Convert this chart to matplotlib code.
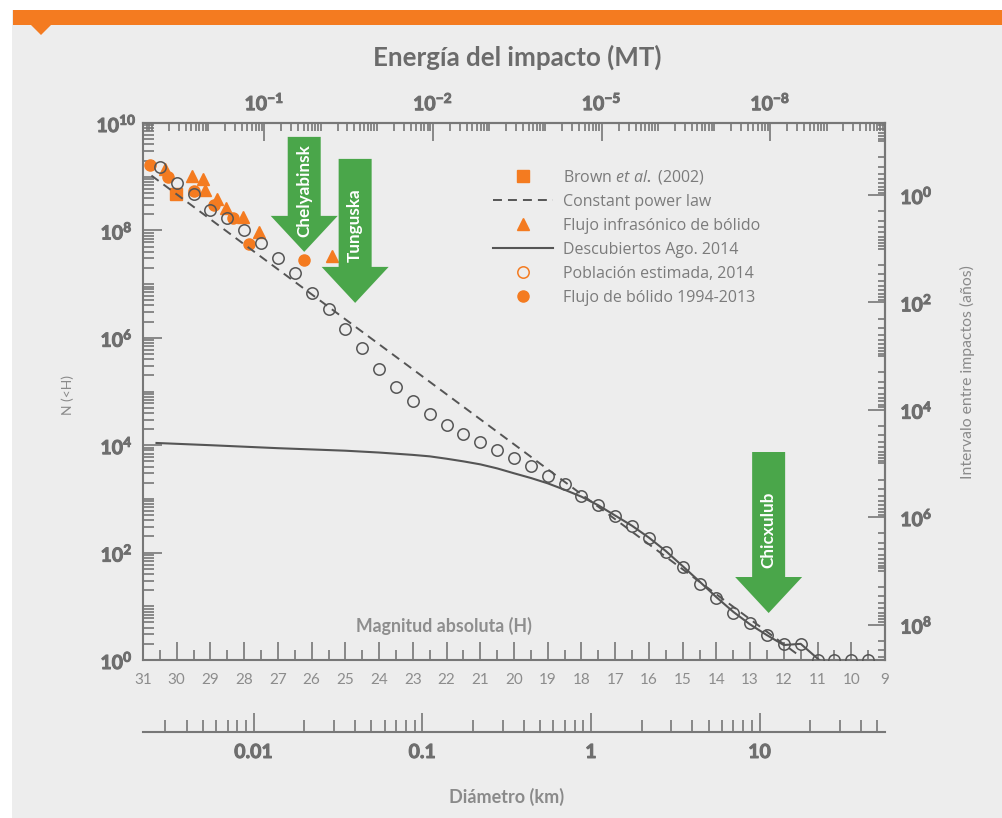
import numpy as np
import matplotlib
matplotlib.use('Agg')
import matplotlib.pyplot as plt
from matplotlib.lines import Line2D
from matplotlib.patches import Polygon, Rectangle
import matplotlib.transforms as mtransforms
import matplotlib.patheffects as pe
from matplotlib.ticker import FixedLocator, FixedFormatter, FuncFormatter, NullFormatter

plt.rcParams['font.family'] = ['Lato', 'DejaVu Sans']
plt.rcParams['mathtext.fontset'] = 'custom'
plt.rcParams['mathtext.rm'] = 'Lato:bold'
plt.rcParams['mathtext.bf'] = 'Lato:bold'
plt.rcParams['mathtext.it'] = 'Open Sans:italic'

# ---------------- data ----------------
H_pop = [30.5, 30.0, 29.5, 29.0, 28.5, 28.0, 27.5, 27.0, 26.5, 26.0, 25.5, 25.0,
         24.5, 24.0, 23.5, 23.0, 22.5, 22.0, 21.5, 21.0, 20.5, 20.0, 19.5, 19.0,
         18.5, 18.0, 17.5, 17.0, 16.5, 16.0, 15.5, 15.0, 14.5, 14.0, 13.5, 13.0,
         12.5, 12.0, 11.5, 11.0, 10.5, 10.0, 9.5]
N_pop = [1.5e9, 7.6e8, 4.8e8, 2.4e8, 1.7e8, 1.02e8, 5.9e7, 3.1e7, 1.6e7, 6.8e6,
         3.4e6, 1.46e6, 6.4e5, 2.6e5, 1.2e5, 6.6e4, 3.8e4, 2.4e4, 1.6e4, 1.15e4,
         8.1e3, 5.8e3, 4.1e3, 2.7e3, 1.9e3, 1.13e3, 770, 480, 315, 188, 102, 54,
         26, 14.2, 7.5, 4.9, 2.95, 2.0, 2.0, 1.0, 1.0, 1.0, 1.0]

H_bolide = [30.79, 30.26, 29.49, 28.9, 28.33, 27.86, 26.23]
N_bolide = [1.66e9, 9.8e8, 5.4e8, 2.95e8, 1.7e8, 5.6e7, 2.8e7]

H_infra = [30.35, 29.55, 29.22, 29.16, 28.81, 28.54, 28.04, 27.56, 25.4]
N_infra = [1.4e9, 1.03e9, 9.1e8, 5.6e8, 3.8e8, 2.6e8, 1.78e8, 9.3e7, 3.3e7]

H_brown = [30.02]
N_brown = [4.8e8]

H_law = [30.75, 11.5]
N_law = [1.05e9, 1.15]

H_disc = [30.6, 29.0, 27.0, 25.0, 24.0, 23.0, 22.5, 22.0, 21.5, 21.0, 20.5, 20.0,
          19.5, 19.0, 18.5, 18.0, 17.5, 17.0, 16.5, 16.0, 15.5, 15.0, 14.5, 14.0,
          13.5, 13.0, 12.5, 12.0, 11.5, 10.95]
N_disc = [1.1e4, 1.0e4, 8.8e3, 7.9e3, 7.3e3, 6.6e3, 6.2e3, 5.6e3, 5.0e3, 4.4e3,
          3.7e3, 3.0e3, 2.45e3, 1.95e3, 1.48e3, 1.1e3, 760, 490, 316, 190, 107, 56,
          29, 14.8, 7.9, 4.6, 2.9, 1.9, 2.0, 1.0]

# events (H, N at arrow tip)
events = ["Chelyabinsk", "Tunguska", "Chicxulub"]
event_H = [26.22, 24.71, 12.45]
event_N = [10**7.60, 10**6.65, 10**0.875]

H_ticks = list(range(9, 32))
E_major = [1e0, 1e3, 1e6, 1e9]
E_labels = [r'$10^{-1}$', r'$10^{-2}$', r'$10^{-5}$', r'$10^{-8}$']
D_major = [0.01, 0.1, 1, 10]
D_labels = ['0.01', '0.1', '1', '10']
legend_labels = [r'Brown $\it{et\ al.}$ (2002)', 'Constant power law',
                 'Flujo infrasónico de bólido', 'Descubiertos Ago. 2014',
                 'Población estimada, 2014', 'Flujo de bólido 1994-2013']

# ---------------- style ----------------
OR = '#f47b20'
DG = '#555555'
SP = '#777777'
GREEN = '#4aa64a'
LBL = '#6e6e6e'

W, HH = 1002, 818
fig = plt.figure(figsize=(W / 100, HH / 100), dpi=100)
fig.patch.set_facecolor('white')

def fx(x):
    return x / W

def fy(y):
    return 1 - y / HH

fig.patches.append(Rectangle((fx(12), 0), 1 - fx(12), fy(10), transform=fig.transFigure,
                             facecolor='#ededed', edgecolor='none', zorder=-10))
fig.patches.append(Rectangle((fx(13), fy(25)), 1 - fx(13), 15 / HH, transform=fig.transFigure,
                             facecolor=OR, edgecolor='none', zorder=-9))
fig.patches.append(Polygon([(fx(31), fy(25)), (fx(51), fy(25)), (fx(41), fy(35))], closed=True,
                           transform=fig.transFigure, facecolor=OR, edgecolor='none', zorder=-9))

ax = fig.add_axes([fx(143), fy(660), (885 - 143) / W, (660 - 123) / HH])
ax.set_facecolor('none')
ax.set_yscale('log')
ax.set_xlim(31, 9)
ax.set_ylim(1, 1e10)

for s in ax.spines.values():
    s.set_color(SP)
    s.set_linewidth(1.5)

# series
ax.plot(H_bolide, N_bolide, ls='none', marker='o', ms=8, mfc=OR, mec=OR, zorder=3)
ax.plot(H_infra, N_infra, ls='none', marker='^', ms=8.5, mfc=OR, mec=OR, zorder=3)
ax.plot(H_brown, N_brown, ls='none', marker='s', ms=9, mfc=OR, mec=OR, zorder=3)
ax.plot(H_law, N_law, ls=(0, (4.6, 3.1)), color=DG, lw=1.4, zorder=4)
ax.plot(H_disc, N_disc, ls='-', color=DG, lw=1.5, zorder=4)
ax.plot(H_pop, N_pop, ls='none', marker='o', ms=8.2, mfc='none', mec=DG, mew=1.1, zorder=5)

# bottom (H) axis
ax.xaxis.set_major_locator(FixedLocator(H_ticks))
ax.xaxis.set_minor_locator(FixedLocator([h + 0.5 for h in H_ticks]))
ax.tick_params(axis='x', which='both', direction='in', top=False, color=SP, width=1.2,
               labelsize=11, labelcolor='#8c8c8c', pad=9)
ax.tick_params(axis='x', which='major', length=13)
ax.tick_params(axis='x', which='minor', length=7.5)

# left axis
ax.yaxis.set_major_locator(FixedLocator([10.0 ** k for k in range(0, 11, 2)]))
ax.yaxis.set_minor_locator(FixedLocator([m * 10.0 ** k for k in range(0, 10) for m in range(1, 10)
                                         if not (m == 1 and k % 2 == 0)]))
ax.yaxis.set_major_formatter(FuncFormatter(lambda v, p: r'$10^{%d}$' % round(np.log10(v))))
ax.yaxis.set_minor_formatter(NullFormatter())
ax.tick_params(axis='y', which='both', direction='in', right=False, color=SP, width=1.2,
               labelsize=14, labelcolor=LBL, pad=19)
ax.tick_params(axis='y', which='major', length=14)
ax.tick_params(axis='y', which='minor', length=8)

# top (energy) axis
H_E1 = 27.4

def h2e(h):
    return 10 ** (0.6 * (H_E1 - np.asarray(h, float)))

def e2h(e):
    with np.errstate(divide='ignore', invalid='ignore'):
        return H_E1 - np.log10(np.asarray(e, float)) / 0.6

top = ax.secondary_xaxis('top', functions=(h2e, e2h))
top.xaxis.set_major_locator(FixedLocator(E_major))
top.xaxis.set_major_formatter(FixedFormatter(E_labels))
top.xaxis.set_minor_locator(FixedLocator([m * 10.0 ** k for k in range(-3, 12) for m in range(1, 10)
                                          if not (m == 1 and k in (0, 3, 6, 9))]))
top.xaxis.set_minor_formatter(NullFormatter())
top.tick_params(which='both', direction='in', color=SP, width=1.2, labelsize=14,
                labelcolor=LBL, pad=7)
top.tick_params(which='major', length=13)
top.tick_params(which='minor', length=6)
for s in top.spines.values():
    s.set_color(SP)
    s.set_linewidth(1.5)

# right (interval) axis
C_INT = 10 ** 8.66

def n2i(n):
    with np.errstate(divide='ignore', invalid='ignore'):
        return C_INT / np.asarray(n, float)

right = ax.secondary_yaxis('right', functions=(n2i, n2i))
right.yaxis.set_major_locator(FixedLocator([10.0 ** k for k in range(0, 9, 2)]))
right.yaxis.set_major_formatter(FuncFormatter(lambda v, p: r'$10^{%d}$' % round(np.log10(v))))
right.yaxis.set_minor_locator(FixedLocator([m * 10.0 ** k for k in range(-2, 10) for m in range(1, 10)
                                            if not (m == 1 and k in (0, 2, 4, 6, 8))]))
right.yaxis.set_minor_formatter(NullFormatter())
right.tick_params(which='both', direction='in', color=SP, width=1.2, labelsize=14,
                  labelcolor=LBL, pad=11)
right.tick_params(which='major', length=12)
right.tick_params(which='minor', length=5)
for s in right.spines.values():
    s.set_color(SP)
    s.set_linewidth(1.5)

# diameter axis
H_D1 = 17.72

def h2d(h):
    return 10 ** ((H_D1 - np.asarray(h, float)) / 5.0)

def d2h(d):
    with np.errstate(divide='ignore', invalid='ignore'):
        return H_D1 - 5.0 * np.log10(np.asarray(d, float))

dax = ax.secondary_xaxis(-71.5 / 537, functions=(h2d, d2h))
dax.xaxis.set_major_locator(FixedLocator(D_major))
dax.xaxis.set_major_formatter(FixedFormatter(D_labels))
dax.xaxis.set_minor_locator(FixedLocator([m * 10.0 ** k for k in range(-3, 3) for m in range(2, 10)]))
dax.xaxis.set_minor_formatter(NullFormatter())
dax.tick_params(which='both', direction='in', color=SP, width=1.2, labelsize=14,
                labelcolor=LBL, pad=9)
dax.tick_params(which='major', length=14)
dax.tick_params(which='minor', length=8.5)
for s in dax.spines.values():
    s.set_color(SP)
    s.set_linewidth(1.5)

# arrows
arrow_len = [115, 144, 161]
text_off = [61, 78, 83]
for name, h, n, L, to in zip(events, event_H, event_N, arrow_len, text_off):
    verts = np.array([(0, 0), (-33.5, 36), (-16.5, 36), (-16.5, L), (16.5, L), (16.5, 36), (33.5, 36)]) / 100.0
    trans = fig.dpi_scale_trans + mtransforms.ScaledTranslation(h, n, ax.transData)
    ax.add_patch(Polygon(verts, closed=True, transform=trans, facecolor=GREEN, edgecolor='none',
                         zorder=6, clip_on=False))
    ax.annotate(name, xy=(h, n), xytext=(0, to * 0.72), textcoords='offset points', rotation=90,
                ha='center', va='center', color='white', fontweight='bold', fontsize=12.3, zorder=7)

# legend
handles = [
    Line2D([], [], ls='none', marker='s', ms=9, mfc=OR, mec=OR),
    Line2D([], [], ls=(0, (4.6, 3.1)), color=DG, lw=1.4),
    Line2D([], [], ls='none', marker='^', ms=8.5, mfc=OR, mec=OR),
    Line2D([], [], ls='-', color=DG, lw=1.5),
    Line2D([], [], ls='none', marker='o', ms=8.2, mfc='none', mec=OR, mew=1.1),
    Line2D([], [], ls='none', marker='o', ms=8, mfc=OR, mec=OR),
]
leg = ax.legend(handles, legend_labels, loc='upper left', bbox_to_anchor=(fx(493), fy(168)),
                bbox_transform=fig.transFigure, frameon=False,
                prop={'family': ['Open Sans', 'DejaVu Sans'], 'size': 11.5}, labelcolor='#7b7b7b',
                handlelength=3.75, handletextpad=0.62, labelspacing=0.5, borderpad=0,
                borderaxespad=0)
leg.set_zorder(8)

# texts
fig.text(fx(517), fy(57), 'Energía del impacto (MT)', ha='center', va='center', fontsize=18.6,
         fontweight='bold', color='#6b6b6b')
fig.text(fx(444), fy(626), 'Magnitud absoluta (H)', ha='center', va='center', fontsize=12.8,
         fontweight='bold', color='#8e8e8e')
fig.text(fx(68), fy(395), 'N (<H)', ha='center', va='center', rotation=90, fontsize=10,
         color='#8a8a8a')
fig.text(fx(967), fy(372), 'Intervalo entre impactos (años)', ha='center', va='center',
         rotation=90, fontsize=11.3, color='#8a8a8a')
fig.text(fx(507), fy(797), 'Diámetro (km)', ha='center', va='center', fontsize=13,
         fontweight='bold', color='#8a8a8a')

# final styling of tick labels after layout (bold, heavy numerals)
fig.canvas.draw()
heavy = [pe.withStroke(linewidth=0.7, foreground=LBL)]
for t in ax.get_yticklabels():
    t.set_horizontalalignment('center')
    t.set_path_effects(heavy)
for t in top.get_xticklabels() + right.get_yticklabels() + dax.get_xticklabels():
    t.set_fontweight('bold')
    t.set_path_effects(heavy)

fig.savefig('out.png', dpi=100, facecolor=fig.get_facecolor())
